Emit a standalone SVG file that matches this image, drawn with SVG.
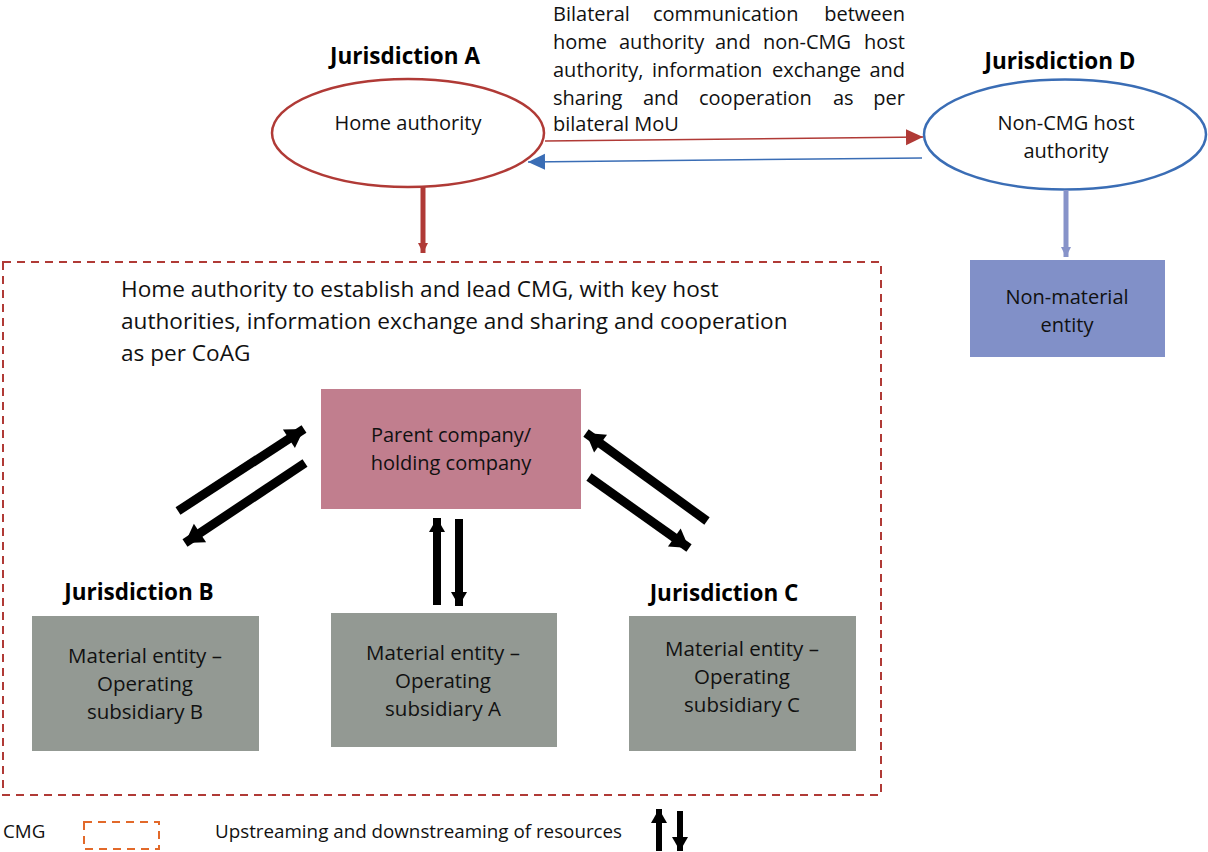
<svg xmlns="http://www.w3.org/2000/svg" width="1208" height="852" viewBox="0 0 1208 852">
<defs>
<style>
text{font-family:"Open Sans","Noto Sans","DejaVu Sans",sans-serif;fill:#111}
.lbl{font-size:20px}
.sub{font-size:20.5px}
.big{font-size:22.6px}
.leg{font-size:18.8px}
.jur{font-size:22.5px;font-weight:bold;text-anchor:middle;fill:#000}
.c{text-anchor:middle}
.e{text-anchor:end}
.blk{stroke:#000;stroke-width:9;fill:none}
</style>
<marker id="hBlk" markerUnits="userSpaceOnUse" markerWidth="24" markerHeight="24" viewBox="0 0 24 24" refX="22" refY="12" orient="auto"><path d="M4,1 L22,12 L4,23 Z" fill="#000"/></marker>
<marker id="hBlkS" markerUnits="userSpaceOnUse" markerWidth="18" markerHeight="18" viewBox="0 0 18 18" refX="17" refY="9" orient="auto"><path d="M3,1 L17,9 L3,17 Z" fill="#000"/></marker>
<marker id="hRed" markerUnits="userSpaceOnUse" markerWidth="18" markerHeight="18" viewBox="0 0 18 18" refX="17" refY="9" orient="auto"><path d="M0,1 L17,9 L0,17 Z" fill="#b03a36"/></marker>
<marker id="hBlue" markerUnits="userSpaceOnUse" markerWidth="18" markerHeight="18" viewBox="0 0 18 18" refX="17" refY="9" orient="auto"><path d="M0,1 L17,9 L0,17 Z" fill="#3a6db5"/></marker>
<marker id="hRedS" markerUnits="userSpaceOnUse" markerWidth="12" markerHeight="12" viewBox="0 0 12 12" refX="11" refY="6" orient="auto"><path d="M1,1 L11,6 L1,11 Z" fill="#b03a36"/></marker>
<marker id="hPur" markerUnits="userSpaceOnUse" markerWidth="12" markerHeight="12" viewBox="0 0 12 12" refX="11" refY="6" orient="auto"><path d="M1,1 L11,6 L1,11 Z" fill="#8793c9"/></marker>
</defs>
<rect width="1208" height="852" fill="#fff"/>

<g id="cmg-box">
<rect x="3" y="262" width="878" height="533" fill="none" stroke="#b03a36" stroke-width="2" stroke-dasharray="8,6"/>
<text class="big" x="121" y="297">Home authority to establish and lead CMG, with key host</text>
<text class="big" x="121" y="329">authorities, information exchange and sharing and cooperation</text>
<text class="big" x="121" y="361">as per CoAG</text>
</g>

<g id="bilateral-text" class="lbl">
<text class="lbl" x="553" y="21">Bilateral</text>
<text class="lbl" x="653" y="21">communication</text>
<text class="lbl e" x="905" y="21">between</text>
<text class="lbl" x="553" y="49">home</text>
<text class="lbl" x="619" y="49">authority</text>
<text class="lbl" x="715" y="49">and</text>
<text class="lbl" x="763" y="49">non-CMG</text>
<text class="lbl e" x="905" y="49">host</text>
<text class="lbl" x="553" y="77">authority,</text>
<text class="lbl" x="652" y="77">information</text>
<text class="lbl" x="772" y="77">exchange</text>
<text class="lbl e" x="905" y="77">and</text>
<text class="lbl" x="553" y="105">sharing</text>
<text class="lbl" x="643" y="105">and</text>
<text class="lbl" x="699" y="105">cooperation</text>
<text class="lbl" x="833" y="105">as</text>
<text class="lbl e" x="905" y="105">per</text>
<text class="lbl" x="553" y="131">bilateral MoU</text>
</g>

<g id="home-authority">
<text class="jur" x="405" y="64">Jurisdiction A</text>
<ellipse cx="408" cy="133" rx="136" ry="54" fill="#fff" stroke="#b03a36" stroke-width="2.5"/>
<text class="lbl c" x="408" y="130">Home authority</text>
</g>

<g id="non-cmg-host">
<text class="jur" x="1060" y="69">Jurisdiction D</text>
<ellipse cx="1065" cy="134.5" rx="141" ry="55" fill="#fff" stroke="#3a6db5" stroke-width="2.5"/>
<text class="lbl c" x="1066" y="130">Non-CMG host</text>
<text class="lbl c" x="1066" y="158">authority</text>
</g>

<g id="non-material">
<rect x="970" y="260" width="195" height="97" fill="#8190c8"/>
<text class="lbl c" x="1067" y="304">Non-material</text>
<text class="lbl c" x="1067" y="332">entity</text>
</g>

<g id="parent">
<rect x="321" y="389" width="260" height="120" fill="#c17e8e"/>
<text class="lbl c" x="451" y="442">Parent company/</text>
<text class="lbl c" x="451" y="470">holding company</text>
</g>

<g id="sub-b">
<text class="jur" x="139" y="600">Jurisdiction B</text>
<rect x="32" y="616" width="227" height="135" fill="#939993"/>
<text class="sub c" x="145" y="663">Material entity –</text>
<text class="sub c" x="145" y="691">Operating</text>
<text class="sub c" x="145" y="719">subsidiary B</text>
</g>

<g id="sub-a">
<rect x="331" y="613" width="226" height="134" fill="#939993"/>
<text class="sub c" x="443" y="660">Material entity –</text>
<text class="sub c" x="443" y="688">Operating</text>
<text class="sub c" x="443" y="716">subsidiary A</text>
</g>

<g id="sub-c">
<text class="jur" x="724" y="601">Jurisdiction C</text>
<rect x="629" y="616" width="227" height="135" fill="#939993"/>
<text class="sub c" x="742" y="656">Material entity –</text>
<text class="sub c" x="742" y="684">Operating</text>
<text class="sub c" x="742" y="712">subsidiary C</text>
</g>

<g id="legend">
<text class="leg" x="3" y="838">CMG</text>
<rect x="84" y="822" width="75" height="27" fill="none" stroke="#e2692a" stroke-width="2" stroke-dasharray="8,6"/>
<text class="leg" x="215" y="838">Upstreaming and downstreaming of resources</text>
<line class="blk" x1="659" y1="851" x2="659" y2="809" marker-end="url(#hBlkS)" style="stroke-width:6"/>
<line class="blk" x1="680" y1="811" x2="680" y2="851" marker-end="url(#hBlkS)" style="stroke-width:6"/>
</g>

<g id="connectors">
<line x1="545" y1="141" x2="923" y2="137" stroke="#b03a36" stroke-width="1.5" marker-end="url(#hRed)"/>
<line x1="922" y1="158" x2="528" y2="162" stroke="#3a6db5" stroke-width="1.5" marker-end="url(#hBlue)"/>
<line x1="423" y1="187" x2="423" y2="253" stroke="#b03a36" stroke-width="5" marker-end="url(#hRedS)"/>
<line x1="1066" y1="190" x2="1066" y2="257" stroke="#8793c9" stroke-width="5" marker-end="url(#hPur)"/>
<line class="blk" x1="178" y1="511" x2="304" y2="429" marker-end="url(#hBlk)"/>
<line class="blk" x1="305" y1="463" x2="185" y2="543" marker-end="url(#hBlk)"/>
<line class="blk" x1="437" y1="605" x2="437" y2="518" marker-end="url(#hBlkS)" style="stroke-width:8"/>
<line class="blk" x1="459" y1="519" x2="459" y2="606" marker-end="url(#hBlkS)" style="stroke-width:8"/>
<line class="blk" x1="707" y1="521" x2="586" y2="433" marker-end="url(#hBlk)"/>
<line class="blk" x1="589" y1="477" x2="689" y2="548" marker-end="url(#hBlk)"/>
</g>
</svg>
